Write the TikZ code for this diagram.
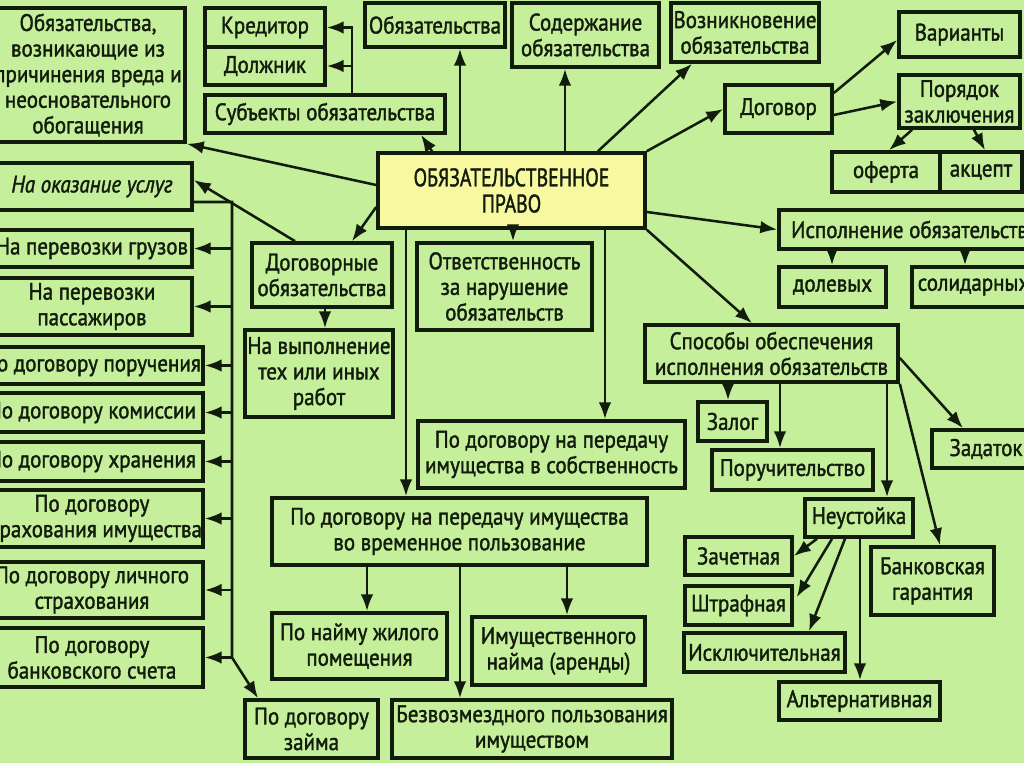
\documentclass[tikz,border=0pt]{standalone}
\usepackage{fontspec}
\setmainfont[FakeStretch=0.88, FakeBold=1.5]{PT Sans}
\newfontfamily\titlefont[FakeStretch=0.78, FakeBold=1.5]{PT Sans}
\usetikzlibrary{arrows.meta}
\definecolor{bggreen}{RGB}{198,239,156}
\definecolor{boxyellow}{RGB}{248,248,160}
\definecolor{ink}{RGB}{18,28,12}
\tikzset{
  blk/.style={draw=ink, line width=2.6pt, inner sep=0pt, align=center, text=ink,
    font=\fontsize{17}{18.2}\selectfont},
  conn/.style={draw=ink, line width=1.8pt},
  arr/.style={conn, -{Latex[length=12pt,width=9pt]}},
}
% box from its corners, in pixel units: [opts]{name}{x1}{y1}{x2}{y2}{text}
\newcommand{\bx}[7][]{%
  \node[blk, #1, minimum width={(#5-#3)*0.025cm}, minimum height={(#6-#4)*0.025cm}]
    (#2) at ({(#3+#5)/2},{(#4+#6)/2}) {#7};}

\begin{document}
\begin{tikzpicture}[x=0.025cm, y=-0.025cm]
  \useasboundingbox (0,0) rectangle (1024,767);
  \clip (0,0) rectangle (1024,767);
  \fill[white] (0,0) rectangle (1024,767);
  \fill[bggreen] (0,0) rectangle (1024,763);

  % top row
  \bx{vred}{-9}{8}{185}{142}{Обязательства,\\ возникающие из\\ причинения вреда и\\ неосновательного\\ обогащения}
  \bx{kred}{205}{8}{325}{47}{Кредитор}
  \bx{dolzh}{205}{47}{325}{85}{Должник}
  \bx{subj}{205}{95}{445}{133}{Субъекты обязательства}
  \bx{obl}{365}{3}{505}{47}{Обязательства}
  \bx{sod}{512}{3}{659}{67}{Содержание\\ обязательства}
  \bx{vozn}{671}{3}{819}{62}{Возникновение\\ обязательства}
  \bx{var}{899}{12}{1020}{57}{Варианты}
  \bx{por}{899}{75}{1020}{128}{Порядок\\ заключения}
  \bx{dogovor}{725}{85}{832}{133}{Договор}
  \bx{oferta}{832}{152}{940}{192}{оферта}
  \bx{akcept}{940}{152}{1022}{192}{акцепт}
  \bx[fill=boxyellow, font=\titlefont\fontsize{18}{18.6}\selectfont]{centre}{378}{153}{645}{228}{ОБЯЗАТЕЛЬСТВЕННОЕ\\ ПРАВО}

  % left column
  \bx{usl}{-8}{163}{192}{210}{\itshape На оказание услуг}
  \bx{gruz}{-8}{230}{192}{267}{На перевозки грузов}
  \bx{pass}{-8}{278}{192}{335}{На перевозки\\ пассажиров}
  \bx{poruch}{-19}{347}{203}{384}{По договору поручения}
  \bx{komis}{-19}{393}{203}{432}{По договору комиссии}
  \bx{hran}{-19}{442}{203}{481}{По договору хранения}
  \bx{strim}{-19}{490}{203}{547}{По договору\\ страхования имущества}
  \bx{lichn}{-19}{562}{203}{618}{По договору личного\\ страхования}
  \bx{bank}{-19}{628}{203}{687}{По договору\\ банковского счета}

  % middle
  \bx{dogob}{252}{243}{392}{307}{Договорные\\ обязательства}
  \bx{rabot}{245}{330}{393}{417}{На выполнение\\ тех или иных\\ работ}
  \bx{otv}{417}{243}{592}{330}{Ответственность\\ за нарушение\\ обязательств}
  \bx{sobst}{418}{421}{685}{488}{По договору на передачу\\ имущества в собственность}
  \bx{vrem}{272}{498}{647}{565}{По договору на передачу имущества\\ во временное пользование}
  \bx{naim}{272}{613}{447}{679}{По найму жилого\\ помещения}
  \bx{arenda}{472}{617}{645}{685}{Имущественного\\ найма (аренды)}
  \bx{zaym}{245}{700}{378}{758}{По договору\\ займа}
  \bx{bezv}{392}{700}{672}{758}{Безвозмездного пользования\\ имуществом}

  % right side
  \bx{isp}{779}{210}{1040}{249}{Исполнение обязательств}
  \bx{dolev}{779}{267}{886}{307}{долевых}
  \bx{solid}{912}{267}{1035}{307}{солидарных}
  \bx{sposob}{645}{325}{898}{382}{Способы обеспечения\\ исполнения обязательств}
  \bx{zalog}{698}{402}{767}{441}{Залог}
  \bx{poruchit}{712}{450}{873}{490}{Поручительство}
  \bx{zadatok}{932}{430}{1040}{468}{Задаток}
  \bx{neust}{805}{499}{913}{537}{Неустойка}
  \bx{zachet}{685}{537}{792}{575}{Зачетная}
  \bx{shtraf}{685}{586}{792}{625}{Штрафная}
  \bx{iskl}{684}{633}{845}{672}{Исключительная}
  \bx{alt}{779}{682}{940}{720}{Альтернативная}
  \bx{bankgar}{871}{547}{994}{615}{Банковская\\ гарантия}

  % connectors, top
  \draw[arr] (centre.north -| 460,0) -- (obl.south -| 460,0);
  \draw[arr] (centre.north -| 565,0) -- (sod.south -| 565,0);
  \draw[arr] (centre.north -| 598,0) -- (vozn.south -| 692,0);
  \draw[arr] (centre.north -| 432,0) -- (subj.south -| 421,0);
  \draw[arr] (subj.north -| 352,0) |- (kred.east);
  \draw[arr] (dolzh.east -| 352,0) -- (dolzh.east);
  \draw[arr] (centre.west |- 0,185) -- (vred.south east);

  % connectors, left
  \draw[arr] (centre.west |- 0,207) -- (dogob.north -| 352,0);
  \draw[arr] (dogob.north -| 295,0) -- (usl.east |- 0,180);
  \draw[arr] (usl.east |- 0,202) -| (bank.east -| 232,0) -- (zaym.north -| 258,0);
  \foreach \n in {gruz,pass,poruch,komis,hran,strim,lichn,bank}
    \draw[arr] (\n.east -| 232,0) -- (\n.east);
  \draw[arr] (dogob.south -| 325,0) -- (rabot.north -| 325,0);

  % connectors, middle
  \draw[arr] (centre.south -| 513,0) -- (otv.north -| 513,0);
  \draw[arr] (centre.south -| 406,0) -- (vrem.north -| 406,0);
  \draw[arr] (centre.south -| 605,0) -- (sobst.north -| 605,0);
  \foreach \n/\x in {naim/367,bezv/460,arenda/567}
    \draw[arr] (vrem.south -| \x,0) -- (\n.north -| \x,0);

  % connectors, right
  \draw[arr] (centre.north east) -- (dogovor.west);
  \draw[arr] (dogovor.east |- 0,93) -- (var.west |- 0,40);
  \draw[arr] (dogovor.east |- 0,115) -- (por.west);
  \draw[arr] (por.south -| 912,0) -- (oferta.north -| 889,0);
  \draw[arr] (por.south -| 974,0) -- (akcept.north -| 985,0);
  \draw[arr] (centre.east |- 0,212) -- (isp.west);
  \draw[arr] (isp.south -| 832,0) -- (dolev.north -| 832,0);
  \draw[arr] (isp.south -| 965,0) -- (solid.north -| 965,0);
  \draw[arr] (centre.south east) -- (sposob.north -| 752,0);
  \draw[arr] (sposob.south -| 728,0) -- (zalog.north -| 728,0);
  \draw[arr] (sposob.south -| 780,0) -- (poruchit.north -| 780,0);
  \draw[arr] (sposob.south -| 887,0) -- (neust.north -| 887,0);
  \draw[arr] (sposob.east |- 0,358) -- (zadatok.north -| 963,0);
  \draw[arr] (sposob.south east) -- (bankgar.north -| 940,0);
  \draw[arr] (neust.south -| 817,0) -- (zachet.east |- 0,556);
  \draw[arr, shorten >=4pt] (neust.south -| 832,0) -- (shtraf.east |- 0,602);
  \draw[arr] (neust.south -| 845,0) -- (iskl.north -| 809,0);
  \draw[arr] (neust.south -| 860,0) -- (alt.north -| 860,0);
\end{tikzpicture}
\end{document}
